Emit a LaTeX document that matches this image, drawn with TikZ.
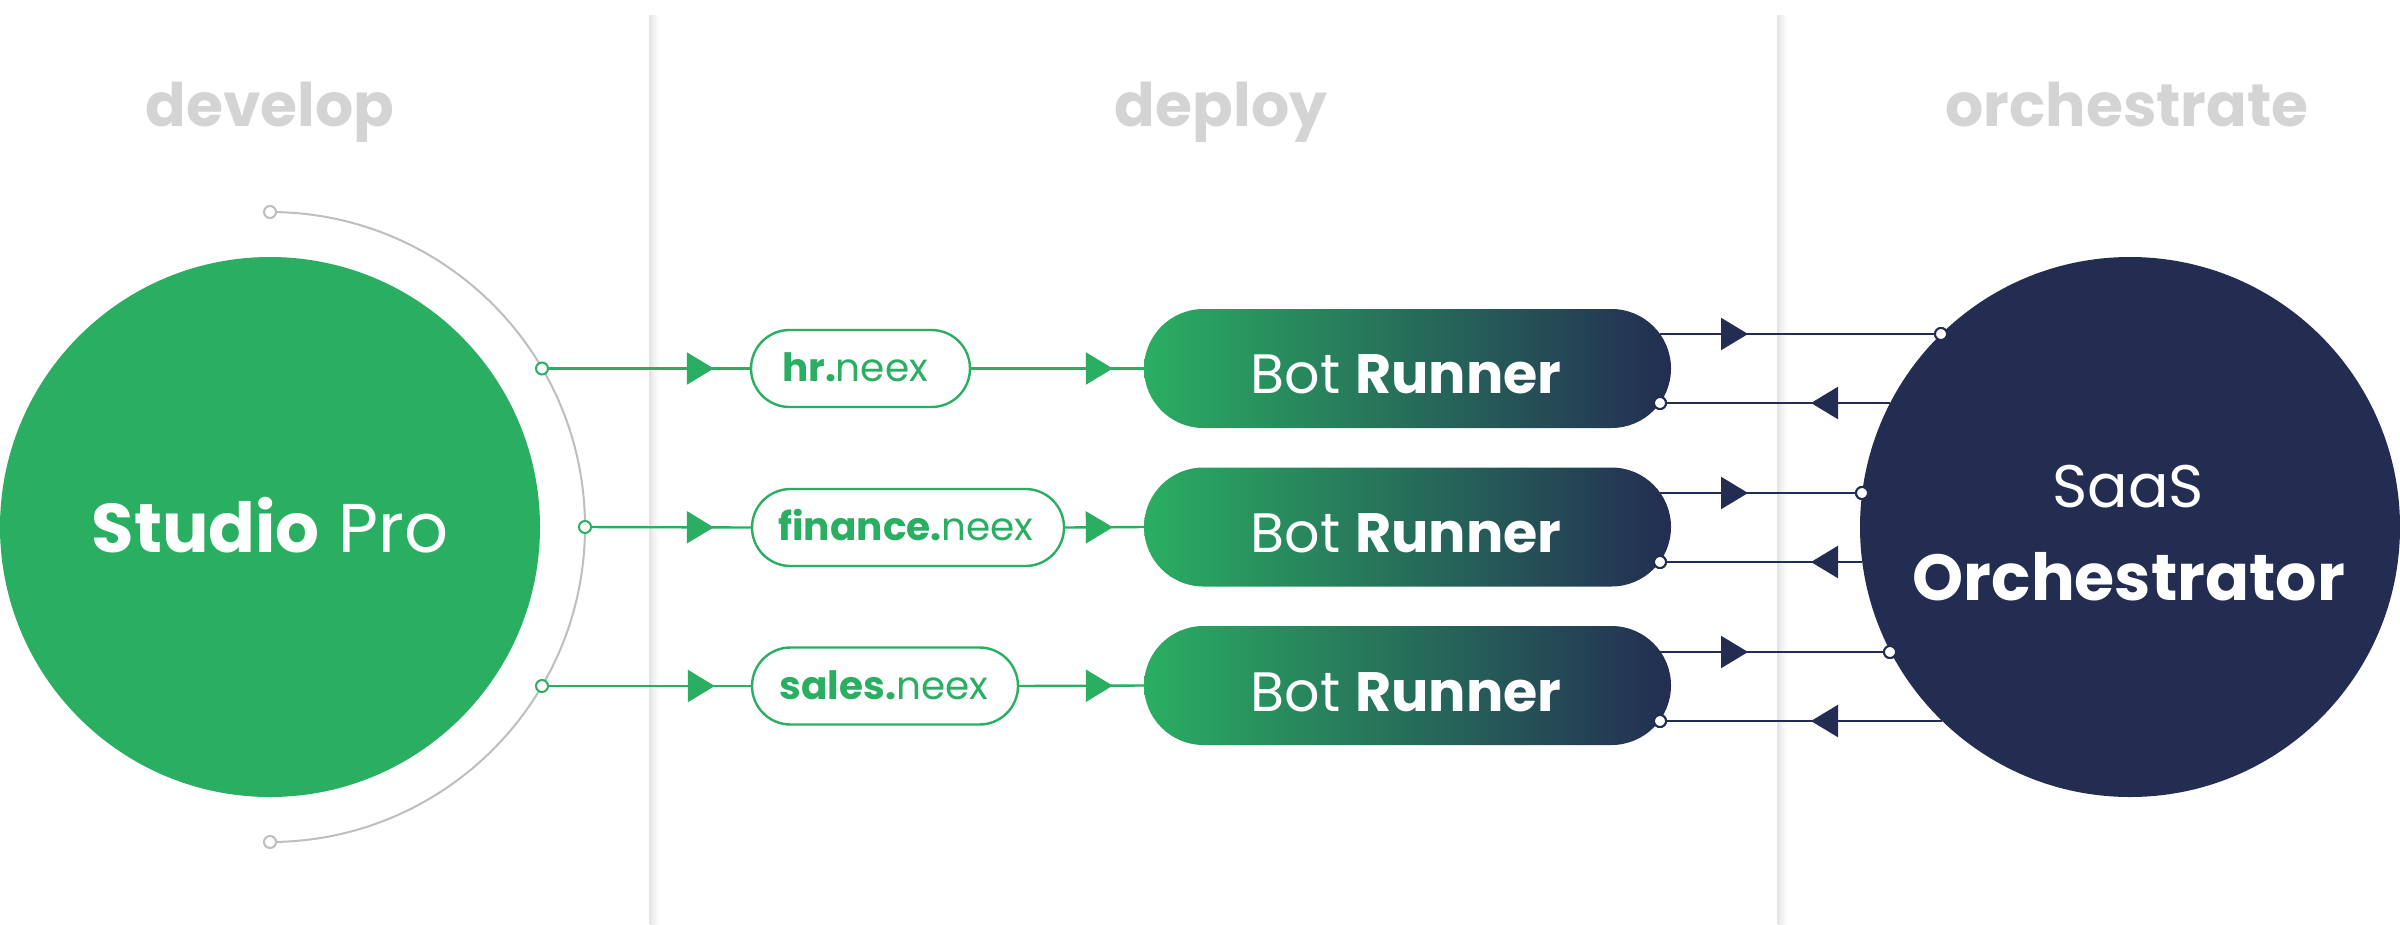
\documentclass[tikz,border=0pt]{standalone}
\usepackage{fontspec}
\setmainfont{Poppins}
\usetikzlibrary{arrows.meta,decorations.markings}
\definecolor{sgreen}{RGB}{42,174,98}
\definecolor{snavy}{RGB}{35,45,82}
\definecolor{hgray}{RGB}{212,212,212}
\definecolor{agray}{RGB}{190,190,190}
\definecolor{dgray}{RGB}{228,228,228}
\tikzset{
  hdr/.style={font=\bfseries\fontsize{60}{60}\selectfont, text=hgray, inner sep=0, anchor=base},
  bigtxt/.style={text=white, inner sep=0, anchor=base},
  pilltxt/.style={text=sgreen, inner sep=0, anchor=base, font=\fontsize{39}{39}\selectfont},
  pill/.style={draw=sgreen, line width=2.4pt, fill=white, minimum height=77pt, rounded corners=38.5pt, inner sep=0},
  botbox/.style={minimum width=527pt, minimum height=119pt, rounded corners=59.5pt, left color=sgreen, right color=snavy, inner sep=0, draw=none},
  gport/.style={circle, draw=#1, fill=white, line width=2pt, inner sep=0, minimum size=12pt},
  gline/.style={draw=sgreen, line width=2.4pt},
  nline/.style={draw=snavy, line width=2.4pt},
  garr/.style={postaction={decorate}, decoration={markings, mark=at position #1 with {\arrow[sgreen]{Triangle[length=27pt,width=32pt]}}}},
  narr/.style={postaction={decorate}, decoration={markings, mark=at position #1 with {\arrow[snavy]{Triangle[length=27pt,width=32pt]}}}},
}
\begin{document}
\begin{tikzpicture}[x=1pt,y=-1pt]
\useasboundingbox (0,0) rectangle (2400,924);
\fill[white] (0,0) rectangle (2400,924);
% dividers
\foreach \xx in {650,1778} {
  \shade[left color=black!9, right color=white] (\xx,15) rectangle (\xx+9,924);
  \draw[dgray, line width=2pt] (\xx,15) -- (\xx,924);
}
% headers
\node[hdr] (hdev) at (270,126) {develop};
\node[hdr] (hdep) at (1221,126) {deploy};
\node[hdr] (horc) at (2127,126) {orchestrate};
% studio
\node[circle, fill=sgreen, minimum size=540pt, inner sep=0] (studio) at (270,527) {};
\node[bigtxt, font=\fontsize{69}{69}\selectfont] (studiot) at (270,552) {\textbf{Studio} Pro};
% arc
\draw[agray, line width=2pt] (270,212) arc[start angle=-90, end angle=90, radius=315];
\node[gport=agray] (atop) at (270,212) {};
\node[gport=agray] (abot) at (270,842) {};
% orchestrator
\node[circle, fill=snavy, minimum size=540pt, inner sep=0] (orch) at (2130,527) {};
\node[bigtxt, font=\fontsize{60}{60}\selectfont] (orch1) at (2128,507) {SaaS};
\node[bigtxt, font=\bfseries\fontsize{65}{65}\selectfont] (orch2) at (2129,600) {Orchestrator};
% pills
\node[pill, minimum width=219pt] (hr) at (860.5,368.5) {};
\node[pill, minimum width=312pt] (fin) at (908,527.5) {};
\node[pill, minimum width=266pt] (sal) at (885,686) {};
\node[pilltxt] (hrt) at (855,381) {\textbf{hr.}neex};
\node[pilltxt] (fint) at (906,540) {\textbf{finance.}neex};
\node[pilltxt] (salt) at (884,699) {\textbf{sales.}neex};
% bot runners
\node[botbox] (br1) at (1407.5,368.5) {};
\node[botbox] (br2) at (1407.5,527) {};
\node[botbox] (br3) at (1407.5,685.5) {};
\foreach \n/\yy in {1/393,2/552,3/711} {
  \node[bigtxt, font=\fontsize{55.5}{55.5}\selectfont] (brt\n) at (1406,\yy) {Bot \textbf{Runner}};
}
% coordinates on the shapes
\coordinate (s1) at (542,368.5);
\coordinate (s2) at (585,527);
\coordinate (s3) at (542,686);
\coordinate (b1o) at (1660,334);
\coordinate (b2o) at (1660,493);
\coordinate (b3o) at (1660,652);
\coordinate (o1r) at (1890,403);
\coordinate (o2r) at (1862,562);
\coordinate (o3r) at (1942,721);
% green connectors
\draw[gline, garr=-36pt] (s1) -- (hr.west);
\draw[gline, garr=-37pt] (s2) -- (fin.west);
\draw[gline, garr=-36pt] (s3) -- (sal.west);
\draw[gline, garr=-31pt] (hr.east) -- (br1.west);
\draw[gline, garr=-31pt] (fin.east) -- (br2.west);
\draw[gline, garr=-31pt] (sal.east) -- (br3.west);
% navy connectors
\node[gport=snavy] (o1i) at (1941,334) {};
\node[gport=snavy] (o2i) at (1862,493) {};
\node[gport=snavy] (o3i) at (1890,652) {};
\node[gport=snavy] (b1i) at (1660,403) {};
\node[gport=snavy] (b2i) at (1660,562) {};
\node[gport=snavy] (b3i) at (1660,721) {};
\draw[nline, narr=88pt] (b1o) -- (o1i);
\draw[nline, narr=88pt] (b2o) -- (o2i);
\draw[nline, narr=88pt] (b3o) -- (o3i);
\draw[nline, narr=-144pt] (o1r) -- (b1i);
\draw[nline, narr=-144pt] (o2r) -- (b2i);
\draw[nline, narr=-144pt] (o3r) -- (b3i);
% ports on top
\node[gport=sgreen] (p1) at (s1) {};
\node[gport=sgreen] (p2) at (s2) {};
\node[gport=sgreen] (p3) at (s3) {};
\node[gport=snavy] at (o1i) {};
\node[gport=snavy] at (o2i) {};
\node[gport=snavy] at (o3i) {};
\node[gport=snavy] at (b1i) {};
\node[gport=snavy] at (b2i) {};
\node[gport=snavy] at (b3i) {};
\end{tikzpicture}
\end{document}
